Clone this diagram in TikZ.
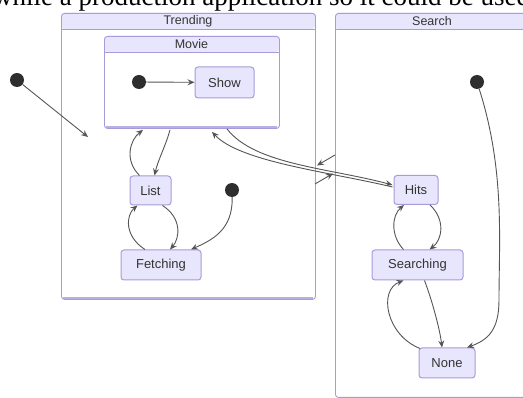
\documentclass[tikz,border=0pt]{standalone}
\usepackage{fontspec}
\setmainfont{Liberation Serif}
\setsansfont{Liberation Sans}
\usetikzlibrary{arrows.meta,calc}
\definecolor{nodefill}{HTML}{E8E6FC}
\definecolor{nodeline}{HTML}{A99BDA}
\definecolor{ink}{HTML}{333333}
\definecolor{edge}{HTML}{555555}
\tikzset{
  x=1pt,y=-1pt,
  state/.style={draw=nodeline,fill=nodefill,rounded corners=3pt,line width=1pt,
    text=ink,font=\sffamily\fontsize{13}{15}\selectfont,inner sep=0pt},
  dot/.style={circle,fill=ink!90!black,draw=none,minimum size=14pt,inner sep=0pt},
  cluster/.style={draw=nodeline,line width=0.9pt,rounded corners=3pt,inner sep=0pt,anchor=north west},
  clabel/.style={text=ink,font=\sffamily\fontsize{12.5}{14}\selectfont,inner sep=0pt},
  tr/.style={draw=edge,line width=0.9pt,-{Stealth[length=7pt,width=6pt,inset=2.5pt]}},
}
\begin{document}
\begin{tikzpicture}
\useasboundingbox (0,0) rectangle (523,398);
\clip (0,0) rectangle (523,398);
\fill[white] (0,0) rectangle (523,398);
% page text
\node[anchor=base west,inner sep=0pt,font=\fontsize{27}{27}\selectfont] (pagetext) at (-7,6) {while a production application so it could be used};
% clusters
\fill[nodefill,rounded corners=3pt] (61,13) rectangle (315,29);
\draw[nodeline,line width=0.9pt] (61,29) -- (315,29);
\node[cluster,minimum width=254pt,minimum height=286pt] (Trending) at (61,13) {};
\draw[nodeline!80,line width=2.5pt] (63,298) -- (313,298);
\node[clabel] at (188,21) {Trending};
\fill[nodefill,rounded corners=3pt] (104,36) rectangle (279,52);
\draw[nodeline,line width=0.9pt] (104,52) -- (279,52);
\node[cluster,minimum width=175pt,minimum height=92pt] (Movie) at (104,36) {};
\draw[nodeline!80,line width=2.5pt] (106,127) -- (277,127);
\node[clabel] at (191.5,44) {Movie};
\fill[nodefill,rounded corners=3pt] (335,13) rectangle (540,29);
\draw[nodeline,line width=0.9pt] (335,29) -- (540,29);
\node[cluster,minimum width=205pt,minimum height=384pt] (Search) at (335,13) {};
\node[clabel] at (432,21) {Search};
% states
\node[state,minimum width=59pt,minimum height=31pt] (Show) at (224.5,82.5) {Show};
\node[state,minimum width=41pt,minimum height=29pt] (List) at (150.5,190.5) {List};
\node[state,minimum width=80pt,minimum height=30pt] (Fetching) at (161,265) {Fetching};
\node[state,minimum width=44pt,minimum height=29pt] (Hits) at (416,190) {Hits};
\node[state,minimum width=91pt,minimum height=30pt] (Searching) at (417.5,265) {Searching};
\node[state,minimum width=56pt,minimum height=30pt] (None) at (447,363) {None};
% start dots
\node[dot] (s1) at (17,80) {};
\node[dot] (s2) at (139,82) {};
\node[dot] (s3) at (232,190) {};
\node[dot] (s4) at (477,82) {};
\coordinate (into) at (88,137);
\coordinate (tEdgeA) at (315,184);
\coordinate (tEdgeB) at (333,173.5);
\coordinate (sEdgeA) at (335,155);
\coordinate (sEdgeB) at (317,165.5);
% edges
\draw[tr] (s1) -- (into);
\draw[tr] (s2) -- (Show);
\draw[tr] ($(List.north)+(-11,0)$) .. controls (124,160) and (130,140) .. ($(Movie.south west)+(39,1)$);
\draw[tr] ($(Movie.south west)+(66,1)$) .. controls (166,145) and (158,160) .. ($(List.north)+(4,0)$);
\draw[tr] ($(List.south)+(12,0)$) .. controls (182,218) and (180,238) .. ($(Fetching.north)+(9,0)$);
\draw[tr] ($(Fetching.north)+(-16,0)$) .. controls (124,236) and (126,215) .. ($(List.south)+(-13,0)$);
\draw[tr] (s3) .. controls (233,230) and (212,240) .. ($(Fetching.north)+(30,0)$);
\draw[tr] ($(Movie.south west)+(123,0)$) .. controls (255,165) and (330,168) .. ($(Hits.west)+(-1,-5)$);
\draw[tr] ($(Hits.west)+(-1,-3)$) .. controls (330,172) and (240,162) .. ($(Movie.south west)+(108,3)$);
\draw[tr] (tEdgeA) -- (tEdgeB);
\draw[tr] (sEdgeA) -- (sEdgeB);
\draw[tr] ($(Hits.south)+(14,0)$) .. controls (446,220) and (442,240) .. ($(Searching.north)+(12,0)$);
\draw[tr] ($(Searching.north)+(-14,0)$) .. controls (390,235) and (392,215) .. ($(Hits.south)+(-12,0)$);
\draw[tr] ($(Searching.south)+(7,0)$) .. controls (432,300) and (440,330) .. ($(None.north)+(-5,0)$);
\draw[tr] ($(None.north)+(-27,1)$) .. controls (386,335) and (378,290) .. ($(Searching.south)+(-14,0)$);
\draw[tr] (s4) .. controls (505,170) and (499,240) .. (499,300) .. controls (499,330) and (488,340) .. ($(None.north)+(20,0)$);
\end{tikzpicture}
\end{document}
